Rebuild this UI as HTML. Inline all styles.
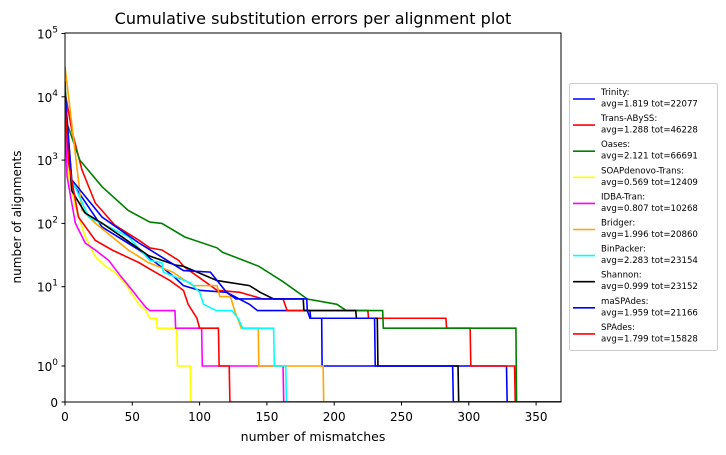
<!DOCTYPE html>
<html><head><meta charset="utf-8"><style>
body{margin:0;background:#fff;}
svg{display:block;font-family:"DejaVu Sans","Liberation Sans",sans-serif;}
</style></head><body>
<svg id="chart" width="726" height="455" viewBox="0 0 726 455">
<defs><clipPath id="pc"><rect x="65" y="33" width="496" height="369"/></clipPath></defs>
<text x="313" y="24" font-size="16" text-anchor="middle">Cumulative substitution errors per alignment plot</text>
<text x="313" y="441" font-size="12.5" text-anchor="middle">number of mismatches</text>
<text transform="translate(21,217) rotate(-90)" font-size="12" text-anchor="middle">number of alignments</text>
<g id="series" clip-path="url(#pc)"></g>
<rect x="65" y="33" width="496" height="369" fill="none" stroke="#000" stroke-width="1"/>
<g id="axes"></g>
<g id="legend"></g>
</svg>
<script>
const names = ["Trinity","Trans-ABySS","Oases","SOAPdenovo-Trans","IDBA-Tran","Bridger","BinPacker","Shannon","maSPAdes","SPAdes"];
const labels = ["avg=1.819 tot=22077","avg=1.288 tot=46228","avg=2.121 tot=66691","avg=0.569 tot=12409","avg=0.807 tot=10268","avg=1.996 tot=20860","avg=2.283 tot=23154","avg=0.999 tot=23152","avg=1.959 tot=21166","avg=1.799 tot=15828"];
const colors = ["#0000ff","#ff0000","#008000","#ffff00","#ff00ff","#ffa500","#00ffff","#000000","#0000ff","#ff0000"];
const xTicks = [0,50,100,150,200,250,300,350];
const yTicks = [0,1,10,100,1000,10000,100000];
const yTickLabels = ["0","10<tspan dy='-6' font-size='9'>0</tspan>","10<tspan dy='-6' font-size='9'>1</tspan>","10<tspan dy='-6' font-size='9'>2</tspan>","10<tspan dy='-6' font-size='9'>3</tspan>","10<tspan dy='-6' font-size='9'>4</tspan>","10<tspan dy='-6' font-size='9'>5</tspan>"];
const trinity = [[0,11000],[5,450],[27.5,88],[55,38],[80,15],[88,10.4],[100,9],[120,8.5],[137,6],[143,5],[182,5],[182.5,4],[190.7,4],[191,1],[328,1],[328.5,0],[370,0]];
const transabyss = [[0,12000],[5,3000],[12.6,700],[22.5,210],[37,94],[55,54],[63,41],[72,38],[84.5,26],[88,21],[113,9],[130,8.5],[147,7],[162,7],[165,5],[225,5],[225.5,4],[283,4],[283.5,3],[301,3],[301.5,1],[334,1],[334.5,0],[370,0]];
const oases = [[0,18000],[1.5,3800],[11,1000],[27.5,380],[47,160],[63,105],[72,100],[89,61],[113,41],[117,35],[137,24],[144,21],[162,12],[180,7],[202,6],[209,5],[236,5],[236.5,3],[335,3],[335.5,0],[370,0]];
const soap = [[0,6000],[2.7,555],[7.7,183],[15,62],[22.5,30],[30,21],[37,17],[45,11],[50,8],[55,6],[60,5],[63,4],[68,4],[68.5,3],[83,3],[83.5,1],[93,1],[93.5,0],[370,0]];
const idba = [[0,5000],[1.5,555],[7.7,101],[15,49],[22.5,38],[32.5,26],[41,15],[50,9],[55,7],[60,5.5],[63,5],[81.7,5],[82.2,3],[101.5,3],[102,1],[162,1],[162.5,0],[370,0]];
const bridger = [[0,30000],[12.6,163],[22.5,101],[47,38],[62,24],[80,17],[95,10.4],[113,10.4],[115,7.5],[123,7.5],[126,5],[131,3],[143.6,3],[144,1],[191.8,1],[192.2,0],[370,0]];
const binpacker = [[0,10000],[5,490],[17.6,126],[47,62],[63,26],[72,24],[73,17],[93,11.5],[100,8.5],[103,6],[112.5,5],[124,5],[128.6,4],[132,3],[155,3],[155.5,1],[164,1],[164.5,0],[370,0]];
const shannon = [[0,10000],[5,330],[15,146],[27.5,101],[42,62],[62,31],[82,22],[88,21],[113,12.5],[137,10.4],[145,8.5],[155,7],[177,7],[177.5,5],[216,5],[216.5,4],[232,4],[232.5,1],[292,1],[292.5,0],[370,0]];
const maspades = [[0,12000],[5,490],[27.5,126],[55,49],[88,18],[108,17],[120,8.5],[127,7],[179.6,7],[180,5],[182,4],[230,4],[230.5,1],[288,1],[288.5,0],[370,0]];
const spades = [[0,8000],[2.7,900],[10,126],[22.5,54],[35,38],[55,24],[63,19],[78,12.5],[88,9],[91.5,6],[98,4],[100,3],[114,3],[114.5,1],[122,1],[122.5,0],[370,0]];
const allSeries = [trinity,transabyss,oases,soap,idba,bridger,binpacker,shannon,maspades,spades];

const NS = "http://www.w3.org/2000/svg";
function xS(v){ return 65 + v * (496/368.5); }
function yS(v){
  if (v <= 1) return 402 - 36 * v;
  if (v <= 10) return 366 - 79.3 * Math.log10(v);
  return 286.7 - 63.3 * (Math.log10(v) - 1);
}
const sg = document.getElementById('series');
allSeries.forEach((s, i) => {
  const pl = document.createElementNS(NS, 'polyline');
  pl.setAttribute('points', s.map(p => xS(p[0]).toFixed(2) + ',' + yS(p[1]).toFixed(2)).join(' '));
  pl.setAttribute('fill', 'none');
  pl.setAttribute('stroke', colors[i]);
  pl.setAttribute('stroke-width', '1.6');
  
  
  sg.appendChild(pl);
});
const ax = document.getElementById('axes');
xTicks.forEach(t => {
  const x = xS(t);
  const ln = document.createElementNS(NS, 'line');
  ln.setAttribute('x1', x); ln.setAttribute('x2', x); ln.setAttribute('y1', 402); ln.setAttribute('y2', 405.5);
  ln.setAttribute('stroke', '#000');
  
  
  ax.appendChild(ln);
  const tx = document.createElementNS(NS, 'text');
  tx.setAttribute('x', x); tx.setAttribute('y', 421); tx.setAttribute('font-size', '12'); tx.setAttribute('text-anchor', 'middle');
  tx.textContent = String(t);
  
  
  ax.appendChild(tx);
});
yTicks.forEach((t, i) => {
  const y = yS(t);
  const ln = document.createElementNS(NS, 'line');
  ln.setAttribute('x1', 61.5); ln.setAttribute('x2', 65); ln.setAttribute('y1', y); ln.setAttribute('y2', y);
  ln.setAttribute('stroke', '#000');
  
  
  ax.appendChild(ln);
  const tx = document.createElementNS(NS, 'text');
  tx.setAttribute('x', 58); tx.setAttribute('y', y + 5); tx.setAttribute('font-size', '12'); tx.setAttribute('text-anchor', 'end');
  tx.innerHTML = yTickLabels[i];
  
  
  ax.appendChild(tx);
});
const lg = document.getElementById('legend');
const box = document.createElementNS(NS, 'rect');
box.setAttribute('x', 569.5); box.setAttribute('y', 83.5); box.setAttribute('width', 148); box.setAttribute('height', 267); box.setAttribute('rx', 2);
box.setAttribute('fill', '#fff'); box.setAttribute('stroke', '#cccccc');


lg.appendChild(box);
names.forEach((n, i) => {
  const y = 99 + i * 26.1;
  const ln = document.createElementNS(NS, 'line');
  ln.setAttribute('x1', 573); ln.setAttribute('x2', 595); ln.setAttribute('y1', y); ln.setAttribute('y2', y);
  ln.setAttribute('stroke', colors[i]); ln.setAttribute('stroke-width', '1.6');
  
  
  lg.appendChild(ln);
  const t1 = document.createElementNS(NS, 'text');
  t1.setAttribute('x', 601); t1.setAttribute('y', y - 4); t1.setAttribute('font-size', '8.6');
  t1.textContent = n + ':';
  
  
  lg.appendChild(t1);
  const t2 = document.createElementNS(NS, 'text');
  t2.setAttribute('x', 601); t2.setAttribute('y', y + 7.5); t2.setAttribute('font-size', '8.6');
  t2.textContent = labels[i];
  
  
  lg.appendChild(t2);
});
</script>
</body></html>
